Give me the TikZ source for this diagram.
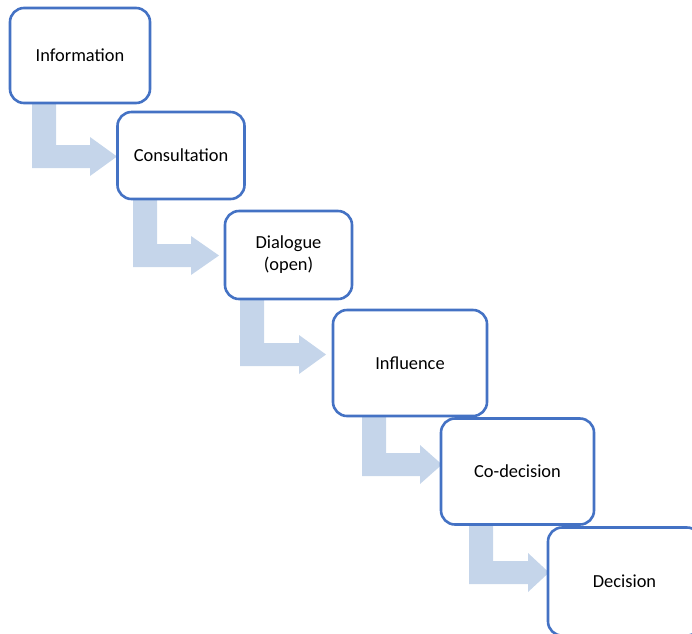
\documentclass[tikz,border=0pt]{standalone}
\usepackage{fontspec}
\setmainfont{Carlito}
\definecolor{boxline}{HTML}{4472C4}
\definecolor{arrowfill}{HTML}{C5D5EA}
\begin{document}
\begin{tikzpicture}[x=1pt,y=-1pt,
  stagebox/.style={draw=boxline, line width=2.6pt, fill=white, rounded corners=14pt,
    inner sep=0pt, align=center, font=\fontsize{18.4}{22}\selectfont},
  bentarrow/.style={fill=arrowfill, draw=none}]
\useasboundingbox (0,0) rectangle (692,633);
\clip (0,0) rectangle (692,633);
% bent arrows: x0, ytop, yh, xh, xt
\newcommand{\bentarr}[5]{%
  \fill[bentarrow] (#1,#2) -- ({#1+24},#2) -- ({#1+24},#3) -- (#4,#3) -- (#4,{#3-8})
    -- (#5,{#3+11.5}) -- (#4,{#3+31}) -- (#4,{#3+23}) -- (#1,{#3+23}) -- cycle;}
\bentarr{32}{100}{145}{90}{117}
\bentarr{133}{195}{244}{191}{219}
\bentarr{240}{296}{343}{299}{326}
\bentarr{362}{412}{453}{420}{442}
\bentarr{469}{520}{561}{528}{549}
% boxes
\node[stagebox, minimum width=140pt, minimum height=95pt] (info) at (80,55.5) {Information};
\node[stagebox, minimum width=127pt, minimum height=87pt] (cons) at (181,155.5) {Consultation};
\node[stagebox, minimum width=127pt, minimum height=88pt] (dial) at (288.5,255) {Dialogue\\(open)};
\node[stagebox, minimum width=154pt, minimum height=106pt] (infl) at (410,363) {Influence};
\node[stagebox, minimum width=153pt, minimum height=106pt] (codec) at (517.5,471.5) {Co-decision};
\node[stagebox, minimum width=153pt, minimum height=108pt] (dec) at (624.5,581.5) {Decision};
\end{tikzpicture}
\end{document}
